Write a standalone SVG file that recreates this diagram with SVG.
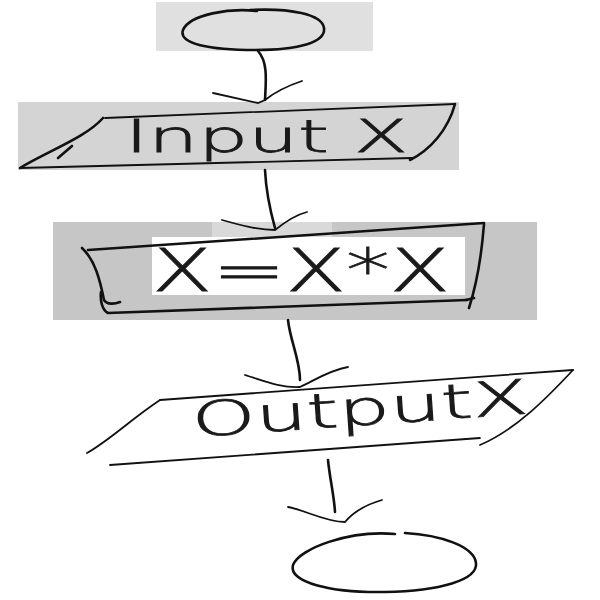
<svg xmlns="http://www.w3.org/2000/svg" width="600" height="600" viewBox="0 0 600 600">
<style>
.ln{fill:none;stroke:#111;stroke-width:2.6;stroke-linecap:round;stroke-linejoin:round}
.thin{fill:none;stroke:#111;stroke-width:1.8;stroke-linecap:round}
.tx{font-family:"DejaVu Sans","Liberation Sans",sans-serif;font-weight:200;fill:#1a1a1a;stroke:#1a1a1a;stroke-width:0.8}
</style>
<rect width="600" height="600" fill="#fff"/>
<g id="start">
<rect x="156" y="2" width="217" height="49" fill="#e0e0e0"/>
<path class="ln" d="M257,11 C230,8 190,14 183,30 C178,44 210,50 255,50 C300,50 326,42 324,28 C322,14 290,8 250,10"/>
</g>
<g id="input">
<rect x="18" y="102" width="441" height="68" fill="#d4d4d4"/>
<path class="thin" d="M105,118 L455,104"/>
<path class="thin" d="M20,168 L412,158"/>
<path class="ln" d="M20,168 C50,150 85,138 103,118 M72,146 L58,158"/>
<path class="ln" d="M455,104 C448,130 430,150 410,160"/>
<text class="tx" x="125" y="152" font-size="44" textLength="283" lengthAdjust="spacingAndGlyphs">Input X</text>
</g>
<g id="process">
<rect x="53" y="222" width="484" height="98" fill="#c6c6c6"/>
<rect x="212" y="222" width="120" height="15" fill="#d9d9d9"/>
<rect x="152" y="237" width="313" height="58" fill="#fff"/>
<path class="ln" d="M88,250 L484,223"/>
<path class="ln" d="M82,248 C95,260 100,280 104,300 C107,305 115,304 120,302"/>
<path class="ln" d="M101,292 C100,300 102,310 108,313 L467,300"/>
<path class="ln" d="M484,224 C482,250 478,280 469,308 M466,300 L474,298"/>
<text class="tx" x="152" y="291" font-size="58" textLength="298" lengthAdjust="spacingAndGlyphs">X=X*X</text>
</g>
<g id="output">
<path class="thin" d="M160,400 L573,370"/>
<path class="thin" d="M160,400 C130,420 110,440 87,453"/>
<path class="thin" d="M110,465 L480,438"/>
<path class="thin" d="M573,370 C545,400 515,430 480,445"/>
<text class="tx" x="193" y="437" font-size="48" textLength="337" lengthAdjust="spacingAndGlyphs" transform="rotate(-4 193 437)">OutputX</text>
</g>
<g id="end">
<path class="ln" d="M395,534 C350,530 300,548 293,565 C288,582 330,593 385,592 C440,591 478,580 476,563 C474,546 440,535 405,533"/>
</g>
<g id="connectors">
<path class="ln" d="M258,51 C268,62 266,80 265,100"/>
<path class="thin" d="M213,93 L258,103 L265,100 C275,92 290,85 302,81"/>
<path class="ln" d="M265,170 C266,190 270,210 275,228"/>
<path class="thin" d="M222,220 C240,225 258,230 275,230 C285,222 295,215 307,212"/>
<path class="ln" d="M288,320 C290,340 300,360 300,380"/>
<path class="thin" d="M245,375 C262,380 280,388 300,387 C315,380 330,370 348,367"/>
<path class="ln" d="M328,460 C330,480 334,495 335,512"/>
<path class="thin" d="M288,507 C305,510 325,522 345,522 C355,510 368,504 382,500"/>
</g>
</svg>
